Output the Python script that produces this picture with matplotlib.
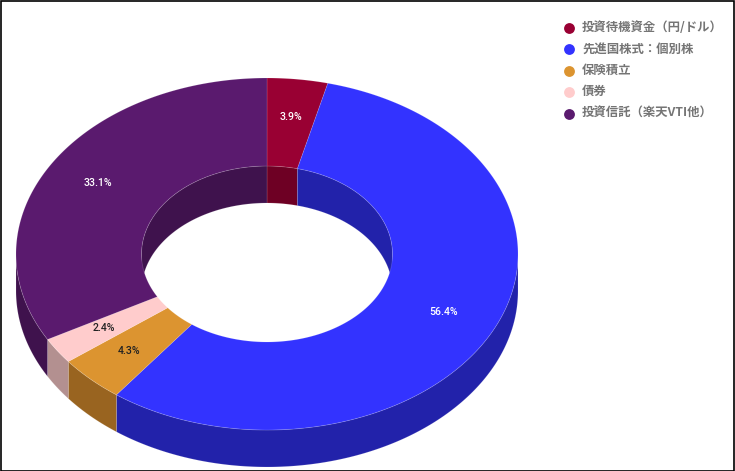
import numpy as np
import matplotlib
matplotlib.use('Agg')
import matplotlib.pyplot as plt

plt.rcParams['font.family'] = ['Noto Sans CJK JP', 'DejaVu Sans']

labels = ['投資待機資金（円/ドル）', '先進国株式：個別株', '保険積立', '債券', '投資信託（楽天VTI他）']
values = [3.9, 56.4, 4.3, 2.4, 33.1]
colors = ['#990033', '#3333FF', '#DC9430', '#FFCCCC', '#5A1A6E']
dark_colors = ['#6E0024', '#2222AA', '#996420', '#B39090', '#3F124D']
label_colors = ['white', 'white', '#222222', '#222222', 'white']

# pie geometry in pixels
cx, cy = 267, 254
rx, ry = 251, 176
hole = 0.5
depth = 37


def arc(a0, a1, frac, shift=0):
    # angles in degrees, clockwise from the top
    t = np.radians(np.linspace(a0, a1, max(int(abs(a1 - a0) * 2), 2)))
    return np.column_stack([cx + rx * frac * np.sin(t), cy - ry * frac * np.cos(t) + shift])


def band(a0, a1, frac_a, frac_b, shift_a=0, shift_b=0):
    return np.vstack([arc(a0, a1, frac_a, shift_a), arc(a1, a0, frac_b, shift_b)])


fig = plt.figure(figsize=(7.35, 4.71), dpi=100)
ax = fig.add_axes([0, 0, 1, 1])
ax.set_xlim(0, 735)
ax.set_ylim(471, 0)
ax.axis('off')

total = sum(values)
edges = np.concatenate([[0], np.cumsum(values)]) / total * 360
edge_line = (1, 1, 1, 0.15)

# walls first, top face goes over them
for i in range(len(values)):
    a0, a1 = edges[i], edges[i + 1]
    # outer wall, near side only
    lo, hi = max(a0, 90), min(a1, 270)
    if hi > lo:
        ax.fill(*band(lo, hi, 1, 1, 0, depth).T, fc=dark_colors[i], ec=edge_line, lw=0.6)
    # inner wall, far side only
    for lo, hi in [(max(a0, 0), min(a1, 90)), (max(a0, 270), min(a1, 360))]:
        if hi > lo:
            ax.fill(*band(lo, hi, hole, hole, 0, depth).T, fc=dark_colors[i], ec=edge_line, lw=0.6)

for i in range(len(values)):
    a0, a1 = edges[i], edges[i + 1]
    ax.fill(*band(a0, a1, 1, hole).T, fc=colors[i], ec=edge_line, lw=0.6)
    mid = np.radians((a0 + a1) / 2)
    x = cx + rx * 0.78 * np.sin(mid)
    y = cy - ry * 0.78 * np.cos(mid) - 1
    ax.text(x, y, f'{values[i]}%', color=label_colors[i], fontsize=7.6, weight='medium', ha='center', va='center',
            family=['Roboto', 'DejaVu Sans'])

# legend
for i, name in enumerate(labels):
    y = 28 + i * 21.4
    ax.plot(569, y, 'o', ms=7.8, color=colors[i], mec='none')
    ax.text(582, y - 0.5, name, color='#757575', fontsize=8.9, weight='bold', ha='left', va='center')

# frame around the picture
ax.add_patch(plt.Rectangle((0.5, 0.5), 734, 470, fc='none', ec='black', lw=1.2))

fig.savefig('out.png', dpi=100, facecolor='white')
